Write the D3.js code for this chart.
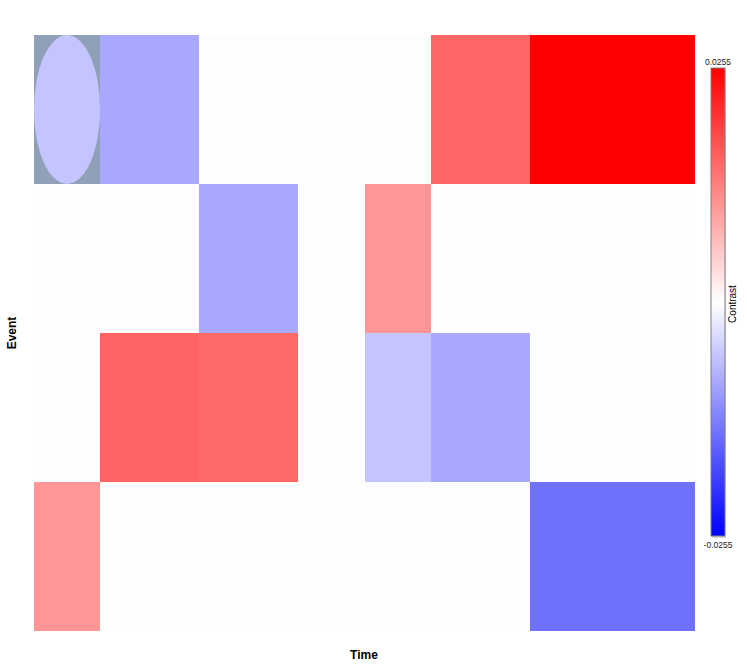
<!DOCTYPE html>
<html><head><meta charset="utf-8">
<script src="https://cdn.jsdelivr.net/npm/d3@7"></script>
<style>body{margin:0;background:#fff}svg{display:block}</style>
</head><body>
<svg id="c" width="747" height="666"></svg>
<script>
const timeBreaks = [0, 2, 5, 8, 10, 12, 15, 20];
const events = ["E1", "E2", "E3", "E4"];
const row1 = [-0.0059, -0.0087, 0, 0, 0, 0.0153, 0.0255];
const row2 = [-0.0002, 0, -0.0087, 0, 0.0106, -0.0001, -0.0002];
const row3 = [0, 0.0155, 0.0150, 0, -0.0059, -0.0087, -0.0002];
const row4 = [0.0106, 0, 0, 0, -0.0002, -0.0002, -0.0143];
const values = [row1, row2, row3, row4];
const cmin = -0.0255, cmax = 0.0255;
const selected = {row: 0, col: 0};

const svg = d3.select("#c");
const x = d3.scaleLinear().domain([0, 20]).range([34, 695]);
const y = d3.scaleBand().domain(events).range([35, 631]);
const color = d3.scaleLinear().domain([cmin, 0, cmax]).range(["#0000ff", "#ffffff", "#ff0000"]);
const cellColor = v => v === 0 ? "#fdfdfd" : color(v);

const cells = [];
values.forEach((r, i) => r.forEach((v, j) => cells.push({i, j, v})));
svg.append("g").selectAll("rect").data(cells).join("rect")
  .attr("x", d => x(timeBreaks[d.j]))
  .attr("width", d => x(timeBreaks[d.j + 1]) - x(timeBreaks[d.j]))
  .attr("y", d => y(events[d.i]))
  .attr("height", y.bandwidth())
  .attr("fill", d => (d.i === selected.row && d.j === selected.col) ? "#8fa0b8" : cellColor(d.v))
  .attr("shape-rendering", "crispEdges");

const sel = cells.find(d => d.i === selected.row && d.j === selected.col);
const x0 = x(timeBreaks[sel.j]), x1 = x(timeBreaks[sel.j + 1]);
svg.append("ellipse")
  .attr("cx", (x0 + x1) / 2).attr("cy", y(events[sel.i]) + y.bandwidth() / 2)
  .attr("rx", (x1 - x0) / 2).attr("ry", y.bandwidth() / 2)
  .attr("fill", color(sel.v));

// axis titles
svg.append("text").attr("x", 364).attr("y", 659).attr("text-anchor", "middle")
  .attr("font-family", "Liberation Sans, Arial, sans-serif").attr("font-weight", "bold")
  .attr("font-size", 12).text("Time");
svg.append("text").attr("transform", "translate(16,333) rotate(-90)").attr("text-anchor", "middle")
  .attr("font-family", "Liberation Sans, Arial, sans-serif").attr("font-weight", "bold")
  .attr("font-size", 12).text("Event");

// colorbar
const defs = svg.append("defs");
const grad = defs.append("linearGradient").attr("id", "cb").attr("x1", 0).attr("y1", 0).attr("x2", 0).attr("y2", 1);
const stops = d3.range(0, 1.0001, 0.1);
grad.selectAll("stop").data(stops).join("stop")
  .attr("offset", d => d)
  .attr("stop-color", d => color(cmax - d * (cmax - cmin)));
const cy = d3.scaleLinear().domain([cmax, cmin]).range([68, 536]);
svg.append("rect").attr("x", 712).attr("y", cy(cmax) + 2).attr("width", 14).attr("height", cy(cmin) - cy(cmax))
  .attr("fill", "#d8d8d8");
svg.append("rect").attr("x", 711).attr("y", cy(cmax)).attr("width", 14).attr("height", cy(cmin) - cy(cmax))
  .attr("fill", "url(#cb)").attr("stroke", "#808080").attr("stroke-width", 1);
svg.append("text").attr("x", 718).attr("y", 65).attr("text-anchor", "middle")
  .attr("font-family", "Liberation Sans, Arial, sans-serif").attr("font-size", 8.5).attr("fill", "#222")
  .text(cmax.toString());
svg.append("text").attr("x", 718).attr("y", 548).attr("text-anchor", "middle")
  .attr("font-family", "Liberation Sans, Arial, sans-serif").attr("font-size", 8.5).attr("fill", "#222")
  .text(cmin.toString());
svg.append("text").attr("transform", "translate(736,304) rotate(-90)").attr("text-anchor", "middle")
  .attr("font-family", "Liberation Sans, Arial, sans-serif").attr("font-size", 10).attr("fill", "#000")
  .text("Contrast");
</script>
</body></html>
